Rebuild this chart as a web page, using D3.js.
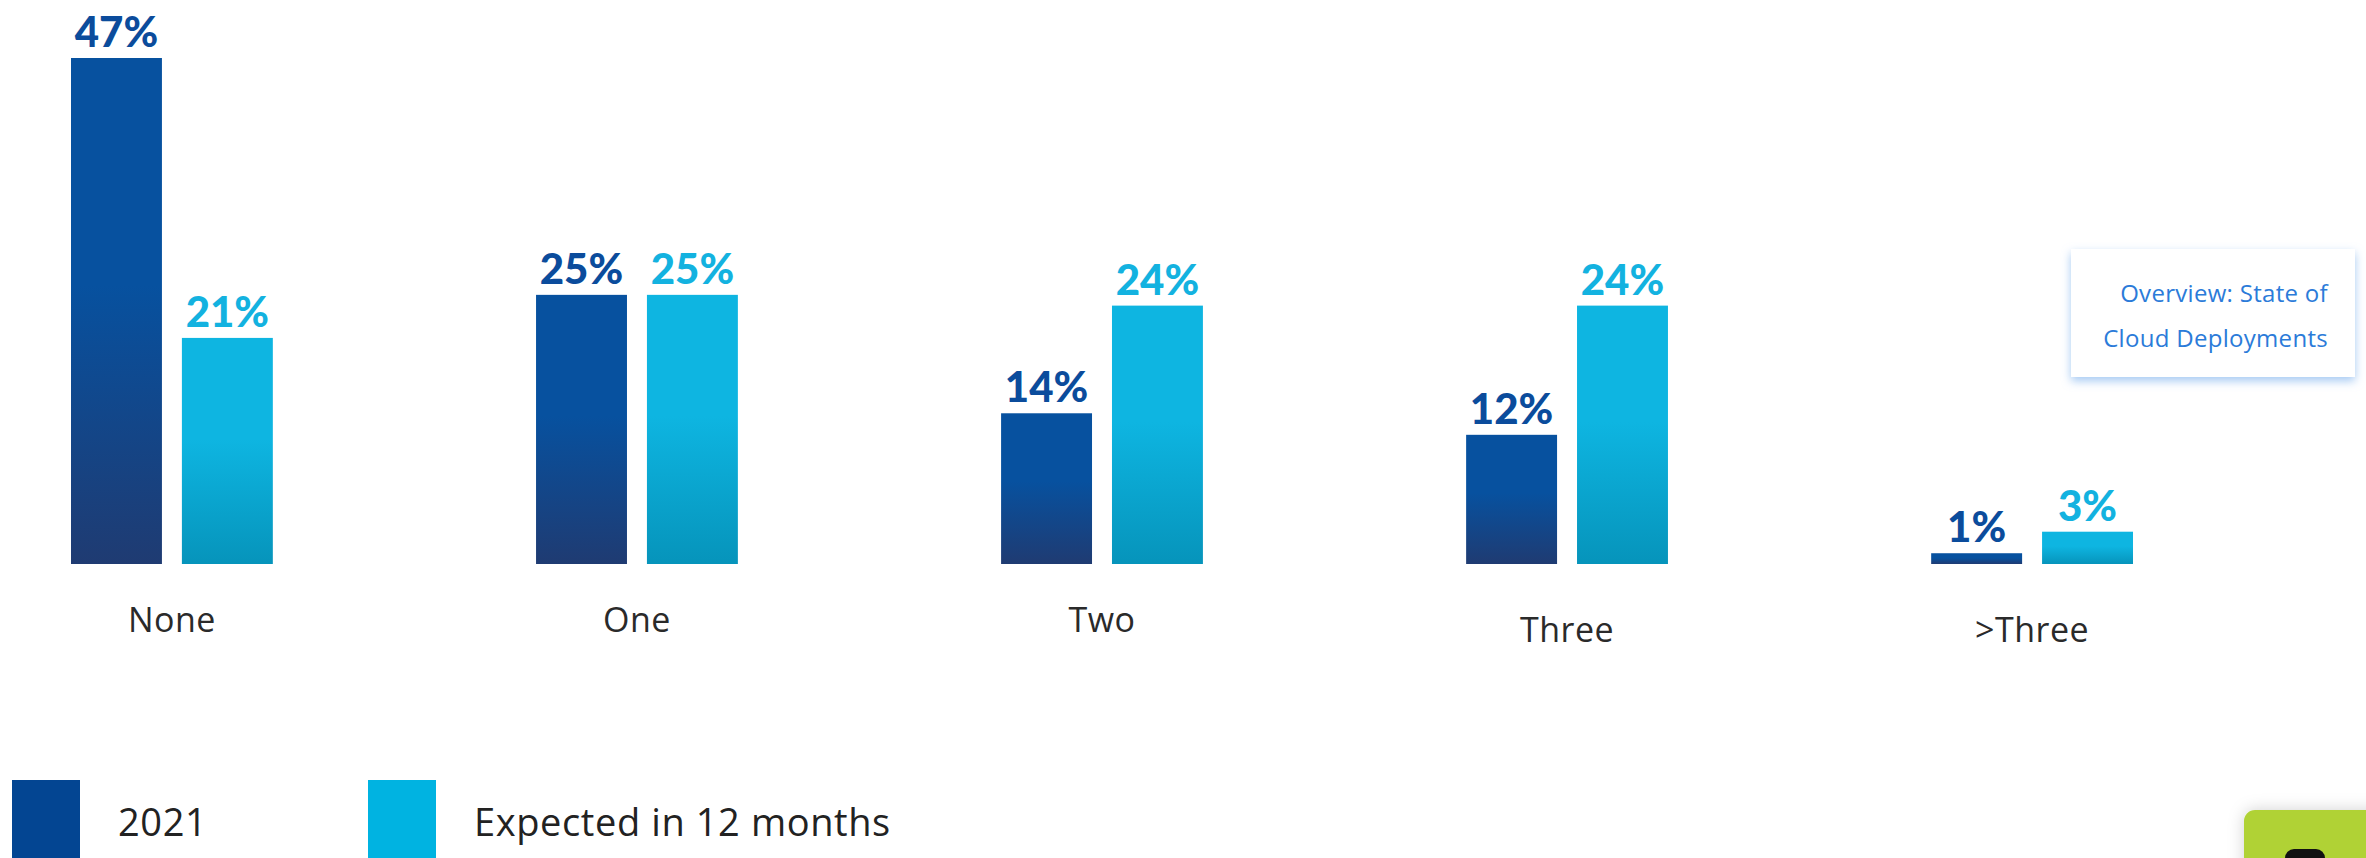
<!DOCTYPE html>
<html>
<head>
<meta charset="utf-8">
<script src="https://cdnjs.cloudflare.com/ajax/libs/d3/7.8.5/d3.min.js"></script>
<style>
  html, body { margin: 0; padding: 0; background: #fff; }
  svg { display: block; }
  .cat text { font-family: "Open Sans", sans-serif; font-size: 34px; fill: #2a2a2a; font-weight: 400; letter-spacing: 0.5px; }
  .value { font-family: Lato, sans-serif; font-weight: 900; font-size: 42px; text-anchor: middle; }
  .legend text { font-family: "Open Sans", sans-serif; font-size: 38px; fill: #222; letter-spacing: 0.6px; }
  .note { font-family: "Open Sans", sans-serif; font-size: 24px; fill: #2b7bd9; text-anchor: end; letter-spacing: 0.3px; }
</style>
</head>
<body>
<svg width="2366" height="858"></svg>
<script>
// data
const categories = ["None", "One", "Two", "Three", ">Three"];
const seriesNames = ["2021", "Expected in 12 months"];
const values2021 = [47, 25, 14, 12, 1];
const valuesExpected = [21, 25, 24, 24, 3];
const noteLines = ["Overview: State of", "Cloud Deployments"];

const svg = d3.select("svg");
const defs = svg.append("defs");

// bar gradients
const grads = [
  { id: "g2021", top: "#07519f", bottom: "#1f3b72" },
  { id: "gExp", top: "#0eb5e1", bottom: "#0694bb" }
];
grads.forEach((g) => {
  const lg = defs.append("linearGradient")
    .attr("id", g.id)
    .attr("x1", 0).attr("y1", 0)
    .attr("x2", 0).attr("y2", 1);
  lg.append("stop").attr("offset", "0%").attr("stop-color", g.top);
  lg.append("stop").attr("offset", "45%").attr("stop-color", g.top);
  lg.append("stop").attr("offset", "100%").attr("stop-color", g.bottom);
});

// shadows
const blueShadow = defs.append("filter").attr("id", "blueShadow")
  .attr("x", "-20%").attr("y", "-20%").attr("width", "140%").attr("height", "150%");
blueShadow.append("feDropShadow")
  .attr("dx", 0).attr("dy", 4).attr("stdDeviation", 5)
  .attr("flood-color", "#7fb2ee").attr("flood-opacity", 0.7);

const greyShadow = defs.append("filter").attr("id", "greyShadow")
  .attr("x", "-30%").attr("y", "-30%").attr("width", "160%").attr("height", "160%");
greyShadow.append("feDropShadow")
  .attr("dx", 0).attr("dy", 0).attr("stdDeviation", 8)
  .attr("flood-color", "#000").attr("flood-opacity", 0.18);

// scales
const baseline = 564;

const scaleY = d3.scaleLinear()
  .domain([0, 47])
  .range([baseline, 58]);

const scaleX = d3.scaleBand()
  .domain(categories)
  .range([71, 2133])
  .paddingInner(0.566)
  .paddingOuter(0);

const scaleInner = d3.scaleBand()
  .domain(seriesNames)
  .range([0, scaleX.bandwidth()])
  .paddingInner(0.18);

const fills = { "2021": "url(#g2021)", "Expected in 12 months": "url(#gExp)" };
const labelColors = { "2021": "#0b4c9c", "Expected in 12 months": "#13b2e0" };
const legendColors = { "2021": "#034592", "Expected in 12 months": "#00b3e1" };

const rows = categories.map((c, i) => ({
  category: c,
  bars: [
    { series: seriesNames[0], value: values2021[i] },
    { series: seriesNames[1], value: valuesExpected[i] }
  ]
}));

// bars
const groups = svg.selectAll("g.group")
  .data(rows)
  .enter()
  .append("g")
  .attr("class", "group")
  .attr("transform", (d) => `translate(${scaleX(d.category)},0)`);

groups.selectAll("rect")
  .data((d) => d.bars)
  .enter()
  .append("rect")
  .attr("x", (d) => scaleInner(d.series))
  .attr("y", (d) => scaleY(d.value))
  .attr("width", scaleInner.bandwidth())
  .attr("height", (d) => baseline - scaleY(d.value))
  .attr("fill", (d) => fills[d.series]);

groups.selectAll("text.value")
  .data((d) => d.bars)
  .enter()
  .append("text")
  .attr("class", "value")
  .attr("x", (d) => scaleInner(d.series) + scaleInner.bandwidth() / 2)
  .attr("y", (d) => scaleY(d.value) - 11)
  .attr("fill", (d) => labelColors[d.series])
  .text((d) => d.value + "%");

// category axis
const axisX = d3.axisBottom(scaleX)
  .tickSize(0)
  .tickPadding(44);

const axisXGroup = svg.append("g")
  .attr("class", "cat")
  .attr("transform", `translate(0,${baseline})`)
  .call(axisX);

axisXGroup.select(".domain").remove();
axisXGroup.selectAll("text")
  .attr("font-size", null)
  .attr("font-family", null)
  .attr("fill", null)
  .attr("transform", (d) => (d === "Three" || d === ">Three") ? "translate(0,10)" : null);

// legend
const legend = svg.append("g").attr("class", "legend");
const legendX = [12, 368];
seriesNames.forEach((s, i) => {
  legend.append("rect")
    .attr("x", legendX[i]).attr("y", 780)
    .attr("width", 68).attr("height", 100)
    .attr("fill", legendColors[s]);
  legend.append("text")
    .attr("x", legendX[i] + 106).attr("y", 836)
    .text(s);
});

// note box
const note = svg.append("g");
note.append("rect")
  .attr("x", 2071).attr("y", 249)
  .attr("width", 284).attr("height", 128)
  .attr("fill", "#fff")
  .attr("filter", "url(#blueShadow)");
note.selectAll("text.note")
  .data(noteLines)
  .enter()
  .append("text")
  .attr("class", "note")
  .attr("x", 2328)
  .attr("y", (d, i) => 302 + i * 45)
  .text((d) => d);

// green corner button
svg.append("rect")
  .attr("x", 2244).attr("y", 810)
  .attr("width", 150).attr("height", 90)
  .attr("rx", 11)
  .attr("fill", "#b0d236")
  .attr("filter", "url(#greyShadow)");
svg.append("rect")
  .attr("x", 2285).attr("y", 849)
  .attr("width", 40).attr("height", 30)
  .attr("rx", 9)
  .attr("fill", "#111");
</script>
</body>
</html>
